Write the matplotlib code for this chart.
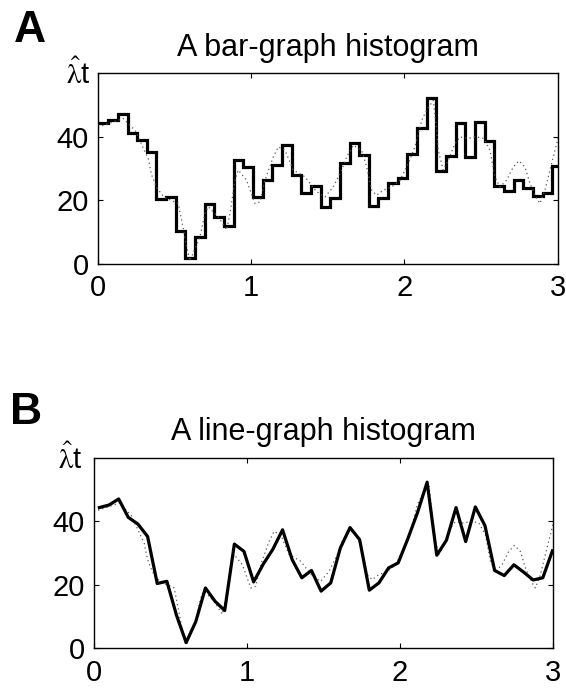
import numpy as np
import matplotlib
matplotlib.use("Agg")
import matplotlib.pyplot as plt

plt.rcParams['font.family'] = ['Liberation Sans', 'DejaVu Sans']
plt.rcParams['mathtext.fontset'] = 'stix'

# histogram: 48 bins over 0..3 s
bin_width = 0.063
n_bins = 48
bin_left = 0.004 + bin_width * np.arange(n_bins)
bin_center = bin_left + bin_width / 2

rate = [44.3, 45.1, 47.0, 41.2, 39.1, 35.2, 20.4, 21.1, 10.4, 1.8,
        8.4, 19.0, 14.8, 11.9, 32.8, 30.5, 20.9, 26.5, 31.2, 37.3,
        27.9, 22.2, 24.5, 18.0, 20.6, 31.6, 38.0, 34.2, 18.3, 20.6,
        25.3, 26.9, 34.5, 42.7, 52.3, 29.3, 34.0, 44.3, 33.6, 44.5,
        38.6, 24.5, 22.9, 26.3, 24.0, 21.5, 22.2, 30.7]

# smooth reference curve (dotted)
smooth_t = [0.0, 0.165, 0.242, 0.329, 0.350, 0.383, 0.431, 0.524, 0.546, 0.579,
            0.600, 0.666, 0.698, 0.720, 0.785, 0.840, 0.862, 0.894, 0.916, 0.970,
            1.025, 1.058, 1.090, 1.144, 1.177, 1.221, 1.275, 1.351, 1.427, 1.482,
            1.536, 1.590, 1.623, 1.667, 1.721, 1.754, 1.786, 1.819, 1.862, 1.917,
            1.971, 2.026, 2.069, 2.113, 2.145, 2.189, 2.211, 2.221, 2.254, 2.287,
            2.330, 2.363, 2.417, 2.461, 2.515, 2.559, 2.591, 2.624, 2.667, 2.711,
            2.748, 2.787, 2.820, 2.863, 2.885, 2.918, 2.950, 2.983, 3.005]
smooth_y = [43.0, 45.7, 42.0, 33.0, 28.0, 24.0, 21.0, 19.0, 13.8, 5.4,
            1.0, 8.6, 15.9, 18.0, 14.8, 10.7, 15.9, 26.3, 29.5, 26.3,
            19.0, 19.5, 26.3, 33.6, 36.8, 35.7, 29.5, 27.4, 22.7, 21.1,
            24.2, 29.5, 33.6, 37.3, 35.7, 30.5, 23.2, 21.6, 23.2, 24.2,
            26.3, 31.6, 36.8, 45.1, 48.3, 51.4, 42.0, 35.7, 29.5, 32.6,
            37.8, 39.9, 39.4, 40.0, 39.5, 35.7, 27.4, 24.2, 26.3, 30.5,
            32.4, 30.5, 25.3, 20.6, 19.0, 23.2, 29.5, 35.7, 39.9]

xticks = [0, 1, 2, 3]
yticks = [0, 20, 40]

fig = plt.figure(figsize=(5.66, 6.9), dpi=100)
axA = fig.add_axes([0.1731, 0.6174, 0.8120, 0.2768])
axB = fig.add_axes([0.1660, 0.0604, 0.8110, 0.2763])


def style(ax, title):
    ax.set_xlim(0, 3)
    ax.set_ylim(0, 60)
    ax.set_xticks(xticks)
    ax.set_yticks(yticks)
    ax.tick_params(direction='in', length=3.6, width=0.8, top=True, right=True,
                   labelsize=21)
    ax.tick_params(axis='x', pad=7.5)
    ax.tick_params(axis='y', pad=6.5)
    for s in ax.spines.values():
        s.set_linewidth(1.0)
    ax.set_title(title, fontsize=22, pad=12.5)
    ax.plot(smooth_t, smooth_y, color='0.35', lw=0.9, ls=(0, (1, 2.5)))


style(axA, 'A bar-graph histogram')
edges = np.r_[0.0, bin_left[1:], 3.1]
axA.stairs(rate, edges, color='black', lw=2.3, baseline=None)
axA.text(-0.017, 0.942, r'$\hat{\mathrm{\lambda}}$t', transform=axA.transAxes,
         ha='right', va='baseline', fontsize=21)

style(axB, 'A line-graph histogram')
axB.plot(bin_center, rate, color='black', lw=2.3)
axB.text(-0.025, 0.94, r'$\hat{\mathrm{\lambda}}$t', transform=axB.transAxes,
         ha='right', va='baseline', fontsize=21)

fig.text(14 / 566, 1 - 41.7 / 690, 'A', fontsize=32, fontweight='bold',
         va='baseline')
fig.text(10 / 566, 1 - 424 / 690, 'B', fontsize=32, fontweight='bold',
         va='baseline')

fig.savefig('out.png', dpi=100)
